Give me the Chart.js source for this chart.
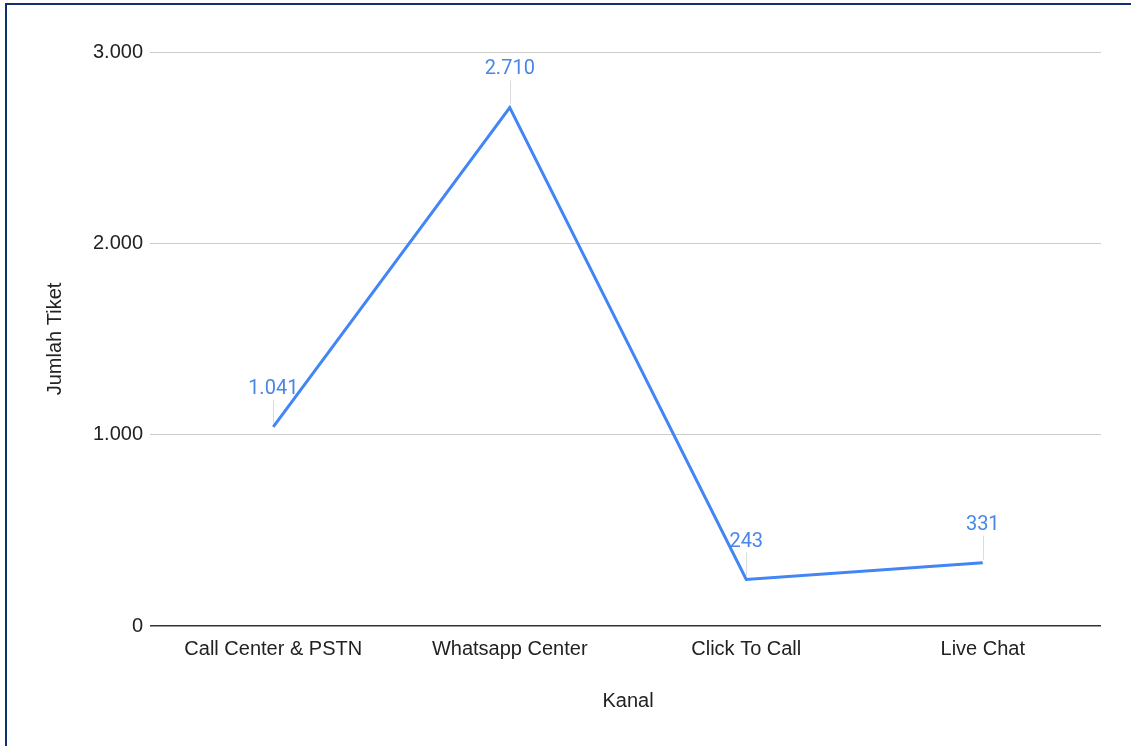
<!DOCTYPE html>
<html>
<head>
<meta charset="utf-8">
<script src="https://cdn.jsdelivr.net/npm/chart.js@4/dist/chart.umd.min.js"></script>
<style>
  html, body { margin: 0; padding: 0; background: #fff; }
  .frame {
    position: absolute; left: 5px; top: 3px; right: -10px; bottom: -10px;
    border-left: 2px solid #10306e; border-top: 2px solid #10306e;
  }
  .chart-container { position: absolute; left: 0; top: 0; width: 1131px; height: 746px; }
</style>
</head>
<body>
<div class="frame"></div>
<div class="chart-container"><canvas id="chart"></canvas></div>
<script>
const categories = ['Call Center & PSTN', 'Whatsapp Center', 'Click To Call', 'Live Chat'];
const ticketCounts = [1041, 2710, 243, 331];
const yTicks = [0, 1000, 2000, 3000];

// Indonesian style thousands separator
const formatId = (v) => String(v).replace(/\B(?=(\d{3})+(?!\d))/g, '.');

// draws value labels above each point with a small leader line
const pointLabels = {
  id: 'pointLabels',
  afterDatasetsDraw(chart) {
    const ctx = chart.ctx;
    const meta = chart.getDatasetMeta(0);
    ctx.save();
    meta.data.forEach((pt, i) => {
      ctx.strokeStyle = '#dcdcdc';
      ctx.lineWidth = 1;
      ctx.beginPath();
      ctx.moveTo(Math.round(pt.x) + 0.5, pt.y - 3);
      ctx.lineTo(Math.round(pt.x) + 0.5, pt.y - 27);
      ctx.stroke();
      ctx.fillStyle = '#4a86e8';
      ctx.font = '20px Roboto';
      ctx.textAlign = 'center';
      ctx.textBaseline = 'middle';
      ctx.fillText(formatId(ticketCounts[i]), pt.x, pt.y - 38);
    });
    ctx.restore();
  }
};

const axisFont = { family: 'Liberation Sans', size: 20 };

new Chart(document.getElementById('chart'), {
  type: 'line',
  data: {
    labels: categories,
    datasets: [{
      data: ticketCounts,
      borderColor: '#4285f4',
      borderWidth: 3,
      pointRadius: 0,
      tension: 0,
      fill: false
    }]
  },
  options: {
    responsive: true,
    maintainAspectRatio: false,
    animation: false,
    layout: { padding: { left: 0, top: 52, right: 30, bottom: 0 } },
    plugins: { legend: { display: false }, tooltip: { enabled: false } },
    scales: {
      x: {
        offset: true,
        grid: { display: false },
        border: { display: false },
        ticks: { color: '#222', font: axisFont, padding: 3, maxRotation: 0 },
        title: { display: true, text: 'Kanal', color: '#222', font: axisFont, padding: { top: 0, bottom: 33 } },
        afterFit: (scale) => { scale.height = 120; }
      },
      y: {
        min: 0,
        max: 3000,
        afterBuildTicks: (scale) => { scale.ticks = yTicks.map(v => ({ value: v })); },
        grid: {
          color: (c) => c.tick && c.tick.value === 0 ? '#333' : '#cccccc',
          lineWidth: (c) => c.tick && c.tick.value === 0 ? 1.5 : 1,
          tickLength: 5,
          drawTicks: true
        },
        border: { display: false },
        ticks: { color: '#222', font: axisFont, padding: 7, callback: (v) => formatId(v) },
        title: { display: true, text: 'Jumlah Tiket', color: '#222', font: axisFont, padding: { top: 43, bottom: 0 } },
        afterFit: (scale) => { scale.width = 155; }
      }
    }
  },
  plugins: [pointLabels]
});
</script>
</body>
</html>
